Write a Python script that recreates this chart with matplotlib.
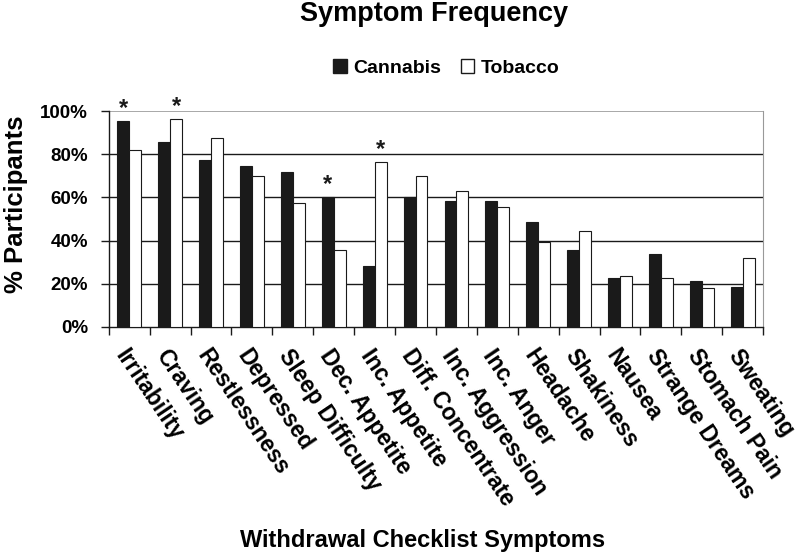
import matplotlib
matplotlib.use("Agg")
import matplotlib.pyplot as plt
import matplotlib.transforms as mtransforms
import numpy as np
from matplotlib.patches import Patch

categories = ["Irritability", "Craving", "Restlessness", "Depressed", "Sleep Difficulty",
              "Dec. Appetite", "Inc. Appetite", "Diff. Concentrate", "Inc. Aggression",
              "Inc. Anger", "Headache", "Shakiness", "Nausea", "Strange Dreams",
              "Stomach Pain", "Sweating"]
cannabis = [95.5, 85.5, 77.3, 74.6, 72.0, 60.0, 28.2, 60.0, 58.2, 58.2, 48.4, 35.4, 22.8, 33.7, 21.1, 18.3]
tobacco = [81.8, 96.3, 87.4, 70.1, 57.3, 35.4, 76.4, 70.1, 62.9, 55.5, 39.1, 44.5, 23.7, 22.7, 18.2, 31.9]
# significance stars: (category index, series)
stars = [(0, "cannabis"), (1, "tobacco"), (5, "cannabis"), (6, "tobacco")]
yticks = [0, 20, 40, 60, 80, 100]

plt.rcParams['font.family'] = ['Liberation Sans', 'DejaVu Sans']
plt.rcParams['font.weight'] = 'bold'

fig = plt.figure(figsize=(8, 5.53), dpi=100)
ax = fig.add_axes([0.136, 0.409, 0.818, 0.390])

x = np.arange(len(categories))
w = 0.29
ax.bar(x - w/2, cannabis, w, color='#1a1a1a', edgecolor='#1a1a1a', linewidth=0.8, zorder=3, label='Cannabis')
ax.bar(x + w/2, tobacco, w, color='white', edgecolor='#1a1a1a', linewidth=0.8, zorder=3, label='Tobacco')

for i, s in stars:
    if s == "cannabis":
        xx, yy = x[i] - w/2, cannabis[i]
    else:
        xx, yy = x[i] + w/2, tobacco[i]
    ax.text(xx, yy + 0.5, "*", ha='center', va='bottom', fontsize=17, fontweight='bold', color='#1a1a1a')

ax.set_xlim(-0.5, len(categories) - 0.5)
ax.set_ylim(0, 100)
ax.set_yticks(yticks)
ax.set_yticklabels([f"{v}%" for v in yticks], fontsize=13.5, fontweight='bold')
for v in yticks[1:-1]:
    ax.axhline(v, color='#1a1a1a', linewidth=1.0, zorder=1)
ax.axhline(100, color='#999999', linewidth=1.2, zorder=1)

ax.set_xticks(x)
labels = ax.set_xticklabels(categories, rotation=-56, ha='left', va='top', rotation_mode='anchor',
                            fontsize=16.5, fontweight='bold')
offset = mtransforms.ScaledTranslation(-10/100, 0, fig.dpi_scale_trans)
for lab in labels:
    lab.set_transform(lab.get_transform() + offset)
ax.set_xticks(np.arange(-0.5, len(categories)), minor=True)
ax.tick_params(axis='x', which='major', length=0, pad=13)
ax.tick_params(axis='x', which='minor', length=6, width=1, color='#1a1a1a', direction='out')
ax.tick_params(axis='y', length=6, width=1, color='#1a1a1a', direction='out', pad=9)

for side in ['left', 'bottom']:
    ax.spines[side].set_color('#1a1a1a')
    ax.spines[side].set_linewidth(1.0)
ax.spines['top'].set_visible(False)
ax.spines['right'].set_color('#999999')

fig.text(0.02, 0.63, "% Participants", ha='center', va='center', rotation=90, fontsize=18.5, fontweight='bold')
fig.text(0.528, 0.023, "Withdrawal Checklist Symptoms", ha='center', va='center', fontsize=17, fontweight='bold')
fig.text(0.542, 0.974, "Symptom Frequency", ha='center', va='center', fontsize=19.5, fontweight='bold')

handles = [Patch(facecolor='#1a1a1a', edgecolor='#1a1a1a', label='Cannabis'),
           Patch(facecolor='white', edgecolor='#1a1a1a', label='Tobacco')]
fig.legend(handles=handles, loc='center', bbox_to_anchor=(0.558, 0.877), ncol=2, frameon=False,
           handlelength=0.68, handleheight=0.68, handletextpad=0.35, columnspacing=1.0,
           prop={'weight': 'bold', 'size': 14})

fig.savefig("out.png", dpi=100)
